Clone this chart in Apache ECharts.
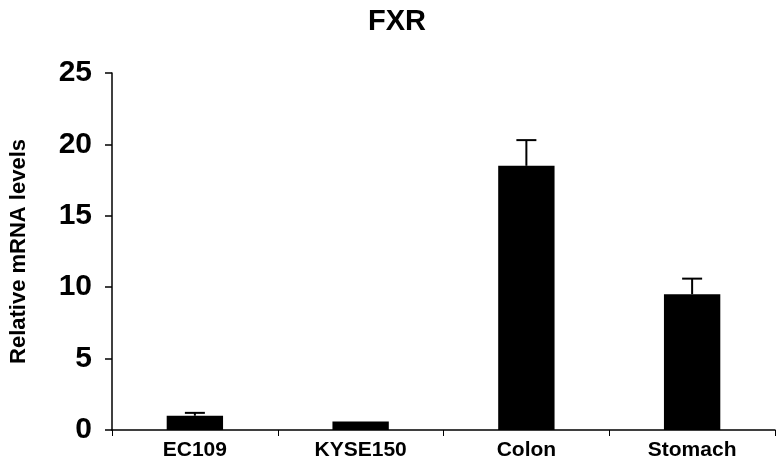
<!DOCTYPE html>
<html><head><meta charset="utf-8">
<script src="https://cdn.jsdelivr.net/npm/echarts@6/dist/echarts.min.js"></script>
<style>html,body{margin:0;padding:0;background:#fff}#c{width:784px;height:474px}</style>
</head><body><div id="c"></div>
<script>
const categories = ['EC109','KYSE150','Colon','Stomach'];
const values = [1.0, 0.6, 18.5, 9.5];
const errors = [0.2, 0, 1.8, 1.1];
const chart = echarts.init(document.getElementById('c'));
const font = 'Liberation Sans, Arial, sans-serif';
chart.setOption({
  animation:false,
  title:{text:'FXR',left:392,top:2,textAlign:'center',textStyle:{fontFamily:font,fontSize:29,fontWeight:'bold',color:'#000'}},
  grid:{left:97,right:9,top:73,bottom:44},
  xAxis:{type:'category',data:categories,
    axisLine:{lineStyle:{color:'#000',width:1.5}},
    axisTick:{show:true,lineStyle:{color:'#000'},length:6},
    axisLabel:{fontFamily:font,fontSize:21,fontWeight:'bold',color:'#000',margin:10}},
  yAxis:{type:'value',min:0,max:25,interval:5,
    name:'Relative mRNA levels',nameLocation:'middle',nameGap:82,
    nameTextStyle:{fontFamily:font,fontSize:22,fontWeight:'bold',color:'#000'},
    axisLine:{show:true,lineStyle:{color:'#000',width:1.5}},
    axisTick:{show:true,length:7,lineStyle:{color:'#000',width:1.5}},
    splitLine:{show:false},
    axisLabel:{fontFamily:font,fontSize:30,fontWeight:'bold',color:'#000',margin:20}},
  series:[
    {type:'bar',data:values,barWidth:'34%',itemStyle:{color:'#000'}},
    {type:'custom',data:values.map((v,i)=>[i,v,v+errors[i]]),
     renderItem:(p,api)=>{
       if(api.value(2)<=api.value(1)) return;
       const a=api.coord([api.value(0),api.value(1)]);
       const b=api.coord([api.value(0),api.value(2)]);
       const w=10;
       return {type:'group',children:[
         {type:'line',shape:{x1:a[0],y1:a[1],x2:b[0],y2:b[1]},style:{stroke:'#000',lineWidth:2}},
         {type:'line',shape:{x1:b[0]-w,y1:b[1],x2:b[0]+w,y2:b[1]},style:{stroke:'#000',lineWidth:2}}
       ]};
     },z:5}
  ]
});
</script></body></html>
